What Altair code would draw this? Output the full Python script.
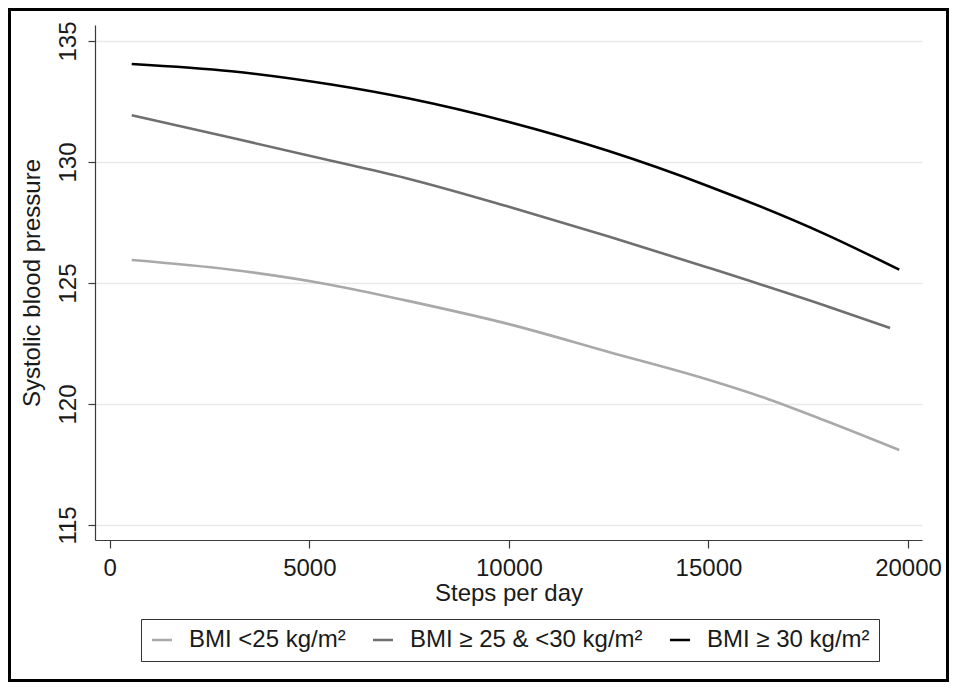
import altair as alt
import pandas as pd

# ---- data ----
groups = ["BMI <25 kg/m²", "BMI ≥ 25 & <30 kg/m²", "BMI ≥ 30 kg/m²"]
colors = ["#a9a9a9", "#6f6f6f", "#000000"]

steps_lt25 = [550, 3050, 5550, 7500, 10000, 12500, 15000, 16500, 17950, 19780]
sbp_lt25 = [125.95, 125.55, 124.92, 124.25, 123.3, 122.15, 121.0, 120.2, 119.3, 118.1]

steps_25_30 = [550, 3050, 5550, 7500, 10000, 12500, 15000, 17950, 19550]
sbp_25_30 = [131.93, 131.0, 130.05, 129.3, 128.15, 126.92, 125.63, 124.05, 123.14]

steps_ge30 = [550, 3050, 5550, 7500, 10000, 12500, 15000, 17950, 19780]
sbp_ge30 = [134.05, 133.75, 133.2, 132.62, 131.65, 130.45, 129.0, 127.0, 125.55]

x_ticks = [0, 5000, 10000, 15000, 20000]
y_ticks = [115, 120, 125, 130, 135]

rows = []
for g, xs, ys in [(groups[0], steps_lt25, sbp_lt25),
                  (groups[1], steps_25_30, sbp_25_30),
                  (groups[2], steps_ge30, sbp_ge30)]:
    for xv, yv in zip(xs, ys):
        rows.append({"group": g, "steps": xv, "sbp": yv})
df = pd.DataFrame(rows)

FONT = "Liberation Sans"
W, H = 827, 515
PAD_L, PAD_T, PAD_R, PAD_B = 87, 17, 27, 142

lines = alt.Chart(df).mark_line(strokeWidth=2.6, interpolate="monotone").encode(
    x=alt.X("steps:Q",
            scale=alt.Scale(domain=[-370, 20350], nice=False, zero=False),
            axis=alt.Axis(values=x_ticks, format="d", title="Steps per day",
                          grid=False, tickSize=8, labelPadding=8,
                          titlePadding=1)),
    y=alt.Y("sbp:Q",
            scale=alt.Scale(domain=[114.38, 135.66], nice=False, zero=False),
            axis=alt.Axis(values=y_ticks, title="Systolic blood pressure",
                          grid=True, tickSize=7, labelAngle=270,
                          labelPadding=8, titlePadding=12)),
    color=alt.Color("group:N",
                    scale=alt.Scale(domain=groups, range=colors),
                    sort=groups,
                    legend=alt.Legend(title=None, orient="none",
                                      direction="horizontal",
                                      legendX=46, legendY=594,
                                      symbolType="stroke",
                                      symbolSize=400,
                                      symbolStrokeWidth=2.5,
                                      labelFontSize=24,
                                      labelFont=FONT,
                                      labelColor="#1a1a1a",
                                      labelOffset=15,
                                      columnPadding=22,
                                      padding=9,
                                      strokeColor="#333333",
                                      labelLimit=400)),
)

frame = alt.Chart(pd.DataFrame({"a": [0]})).mark_rect(
    fillOpacity=0, stroke="#000000", strokeWidth=3
).encode(
    x=alt.value(-PAD_L + 1.5),
    x2=alt.value(W + PAD_R - 1.5),
    y=alt.value(-PAD_T + 1.5),
    y2=alt.value(H + PAD_B - 1.5),
)

chart = alt.layer(lines, frame).properties(
    width=W, height=H,
    autosize=alt.AutoSizeParams(type="none"),
    padding={"left": PAD_L, "top": PAD_T, "right": PAD_R, "bottom": PAD_B},
    background="white",
).configure_view(stroke=None).configure_axis(
    labelFont=FONT, titleFont=FONT,
    labelFontSize=24, titleFontSize=24,
    labelColor="#1a1a1a", titleColor="#1a1a1a",
    titleFontWeight="normal",
    domainColor="#3a3a3a", tickColor="#3a3a3a",
    domainWidth=1.2, tickWidth=1.2,
    gridColor="#e9e9e9", gridWidth=1.5,
)

chart.save("out.html", embed_options={"renderer": "svg", "actions": False})
